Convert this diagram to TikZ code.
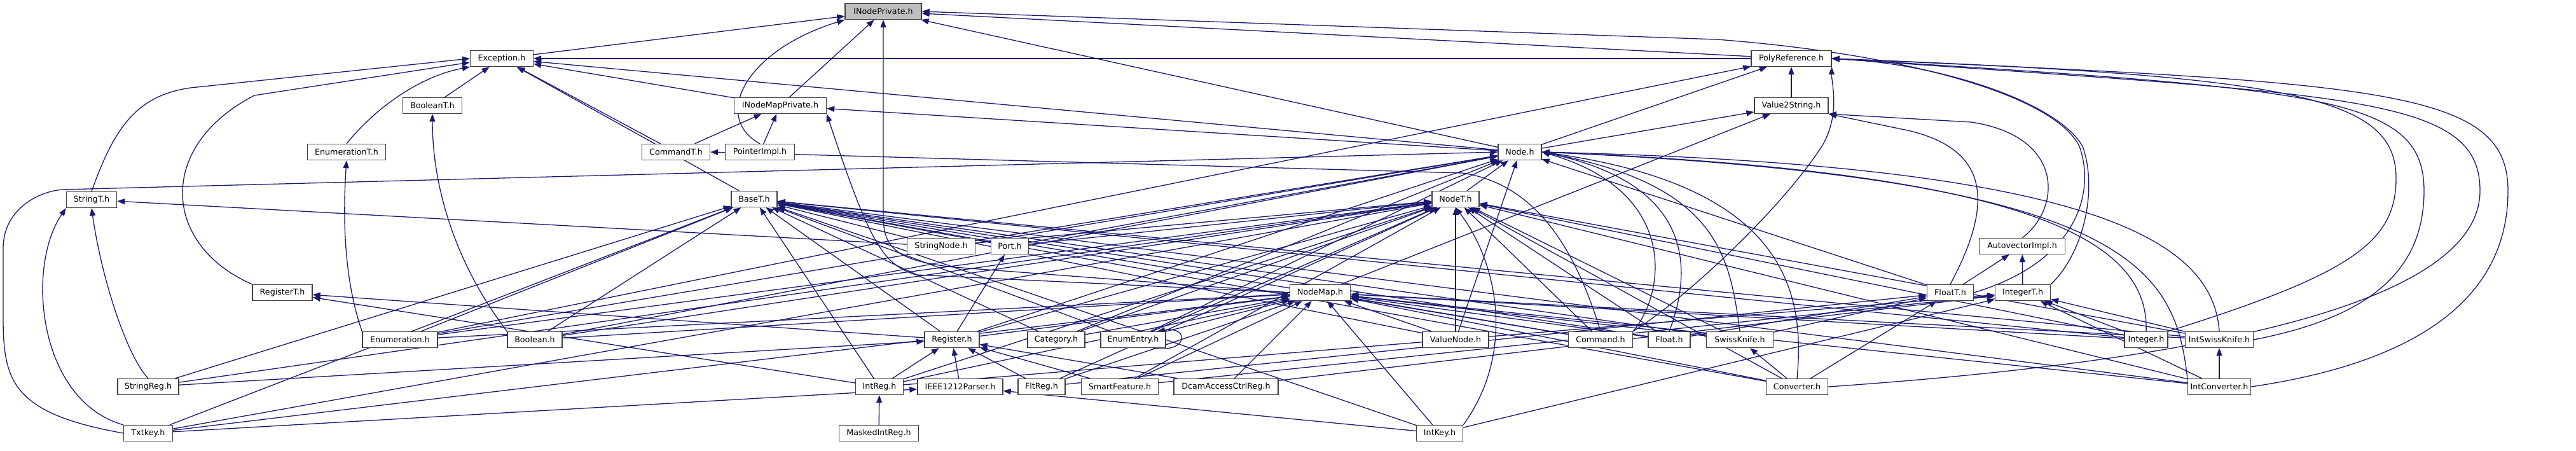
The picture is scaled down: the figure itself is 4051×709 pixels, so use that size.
\documentclass[tikz,border=0pt]{standalone}
\usepackage{fontspec}
\setmainfont{DejaVu Sans}
\usepackage{tikz}
\usetikzlibrary{arrows.meta}
\pgfdeclarelayer{background}
\pgfsetlayers{background,main}
\definecolor{edgeblue}{HTML}{191970}
\definecolor{rootgray}{HTML}{BFBFBF}
\tikzstyle{filebox}=[draw=black!75, fill=white, line width=1.3pt,
					minimum height=25pt, inner sep=0pt, text centered,
					font=\fontsize{12.7}{15}\selectfont]

\begin{document}
\begin{tikzpicture}[x=1pt, y=-1pt,
rootbox/.style={filebox, fill=rootgray},
incl/.style={draw=edgeblue, line width=1.3pt, -{Triangle[length=12pt,width=9pt]}},
]
\useasboundingbox (0,0) rectangle (4051,709);

%Nodes
\node[rootbox, minimum width=120pt] (inodeprivate_node) at (1389,18) {INodePrivate.h};
\node[filebox, minimum width=99pt]  (exception_node) at (789,92) {Exception.h};
\node[filebox, minimum width=126pt] (polyreference_node) at (2817,92) {PolyReference.h};
\node[filebox, minimum width=93pt]  (booleant_node) at (680,166) {BooleanT.h};
\node[filebox, minimum width=145pt] (inodemapprivate_node) at (1227,166) {INodeMapPrivate.h};
\node[filebox, minimum width=116pt] (value2string_node) at (2817,166) {Value2String.h};
\node[filebox, minimum width=123pt] (enumerationt_node) at (545,239) {EnumerationT.h};
\node[filebox, minimum width=107pt] (commandt_node) at (1063,239) {CommandT.h};
\node[filebox, minimum width=109pt] (pointerimpl_node) at (1195,239) {PointerImpl.h};
\node[filebox, minimum width=68pt]  (node_node) at (2390,239) {Node.h};
\node[filebox, minimum width=79pt]  (stringt_node) at (144,314) {StringT.h};
\node[filebox, minimum width=72pt]  (baset_node) at (1186,313) {BaseT.h};
\node[filebox, minimum width=74pt]  (nodet_node) at (2289,313) {NodeT.h};
\node[filebox, minimum width=107pt] (stringnode_node) at (1480,387) {StringNode.h};
\node[filebox, minimum width=59pt]  (port_node) at (1588,387) {Port.h};
\node[filebox, minimum width=135pt] (autovectorimpl_node) at (3180,387) {AutovectorImpl.h};
\node[filebox, minimum width=94pt]  (registert_node) at (444,460) {RegisterT.h};
\node[filebox, minimum width=95pt]  (nodemap_node) at (2076,460) {NodeMap.h};
\node[filebox, minimum width=73pt]  (floatt_node) at (3067,460) {FloatT.h};
\node[filebox, minimum width=87pt]  (integert_node) at (3181,460) {IntegerT.h};
\node[filebox, minimum width=118pt] (enumeration_node) at (629,534) {Enumeration.h};
\node[filebox, minimum width=86pt]  (boolean_node) at (841,534) {Boolean.h};
\node[filebox, minimum width=86pt]  (register_node) at (1497,534) {Register.h};
\node[filebox, minimum width=90pt]  (category_node) at (1661,534) {Category.h};
\node[filebox, minimum width=102pt] (enumentry_node) at (1782,534) {EnumEntry.h};
\node[filebox, minimum width=104pt] (valuenode_node) at (2289,534) {ValueNode.h};
\node[filebox, minimum width=101pt] (command_node) at (2517,534) {Command.h};
\node[filebox, minimum width=66pt]  (float_node) at (2625,534) {Float.h};
\node[filebox, minimum width=105pt] (swissknife_node) at (2736,534) {SwissKnife.h};
\node[filebox, minimum width=68pt]  (integer_node) at (3375,534) {Integer.h};
\node[filebox, minimum width=107pt] (intswissknife_node) at (3490,534) {IntSwissKnife.h};
\node[filebox, minimum width=96pt]  (stringreg_node) at (233,608) {StringReg.h};
\node[filebox, minimum width=75pt]  (intreg_node) at (1383,608) {IntReg.h};
\node[filebox, minimum width=134pt] (ieee1212parser_node) at (1510,608) {IEEE1212Parser.h};
\node[filebox, minimum width=74pt]  (fltreg_node) at (1638,608) {FltReg.h};
\node[filebox, minimum width=121pt] (smartfeature_node) at (1761,608) {SmartFeature.h};
\node[filebox, minimum width=164pt] (dcamaccessctrlreg_node) at (1928,608) {DcamAccessCtrlReg.h};
\node[filebox, minimum width=97pt]  (converter_node) at (2826,608) {Converter.h};
\node[filebox, minimum width=99pt]  (intconverter_node) at (3490,608) {IntConverter.h};
\node[filebox, minimum width=77pt]  (txtkey_node) at (233,681) {Txtkey.h};
\node[filebox, minimum width=125pt] (maskedintreg_node) at (1382,681) {MaskedIntReg.h};
\node[filebox, minimum width=73pt]  (intkey_node) at (2264,681) {IntKey.h};

%Bends of the long lines on the right
\coordinate (loop_int) at (3768,280);
\coordinate (loop_isk) at (3812,300);
\coordinate (loop_conv) at (3900,300);
\coordinate (loop_iconv) at (3944,300);

\begin{pgfonlayer}{background}
%Lines
\draw[incl] (exception_node) -- (inodeprivate_node);
\draw[incl] (inodemapprivate_node) -- (inodeprivate_node);
\draw[incl] (inodemapprivate_node) -- (exception_node);
\draw[incl] (pointerimpl_node.north) .. controls (1120,185) and (1170,80) .. (inodeprivate_node.south west);
\draw[incl] (pointerimpl_node) -- (inodemapprivate_node);
\draw[incl] (commandt_node) -- (exception_node);
\draw[incl] (commandt_node) -- (inodemapprivate_node);
\draw[incl] (booleant_node) -- (exception_node);
\draw[incl] (enumerationt_node.north) .. controls (590,170) and (660,120) .. (exception_node.south west);
\draw[incl] (stringt_node.north) .. controls (180,200) and (215,150) .. (300,138) -- (exception_node.west);
\draw[incl] (registert_node.north west) .. controls (255,385) and (245,230) .. (400,150) -- ([yshift=-6pt]exception_node.west);
\draw[incl] (baset_node) -- (exception_node);
\draw[incl] (node_node) -- (inodeprivate_node);
\draw[incl] (node_node) -- (exception_node);
\draw[incl] (node_node) -- (inodemapprivate_node);
\draw[incl] (node_node) -- (polyreference_node);
\draw[incl] (node_node) -- (value2string_node);
\draw[incl] (polyreference_node) -- (inodeprivate_node);
\draw[incl] (polyreference_node) -- (exception_node);
\draw[incl] (value2string_node) -- (polyreference_node);
\draw[incl] (nodet_node) -- (node_node);
\draw[incl] (nodemap_node) -- (value2string_node);
\draw[incl] (nodemap_node.west) -- (1500,420) .. controls (1410,410) and (1389,390) .. (1389,340) -- (inodeprivate_node.south);
\draw[incl] (nodemap_node.west) -- (1440,432) .. controls (1390,415) and (1370,390) .. (inodemapprivate_node.south east);
\draw[incl] (autovectorimpl_node.north) .. controls (3240,330) and (3250,215) .. (3100,192) -- (value2string_node.south east);
\draw[incl] (floatt_node) -- (autovectorimpl_node);
\draw[incl] (integert_node) -- (autovectorimpl_node);
\draw[incl] (floatt_node.north) .. controls (3135,320) and (3130,235) .. (3000,205) -- (value2string_node.south east);
\draw[incl] (floatt_node.east) .. controls (3270,410) and (3295,300) .. (3270,230) .. controls (3230,150) and (3000,85) .. (2700,62) -- (inodeprivate_node.east);
\draw[incl] (integert_node.north east) .. controls (3275,400) and (3300,300) .. (3275,230) .. controls (3235,160) and (3050,100) .. (polyreference_node.east);
\draw[incl] (floatt_node) -- (node_node);

\draw[incl] (stringnode_node) -- (stringt_node);
\draw[incl] (stringnode_node) -- (baset_node);
\draw[incl] (stringnode_node) -- (nodet_node);
\draw[incl] (stringnode_node) -- (node_node);
\draw[incl] (port_node) -- (baset_node);
\draw[incl] (port_node) -- (nodet_node);
\draw[incl] (port_node) -- (node_node);
\draw[incl] (register_node) -- (port_node);
\draw[incl] (register_node) -- (registert_node);
\draw[incl] (register_node) -- (baset_node);
\draw[incl] (register_node) -- (nodet_node);
\draw[incl] (register_node) -- (node_node);
\draw[incl] (register_node) -- (nodemap_node);
\draw[incl] (category_node) -- (baset_node);
\draw[incl] (category_node) -- (nodet_node);
\draw[incl] (category_node) -- (node_node);
\draw[incl] (category_node) -- (nodemap_node);
\draw[incl] ([xshift=31pt]enumentry_node.south) .. controls (1870,556) and (1870,512) .. ([xshift=38pt]enumentry_node.north);
\draw[incl] (enumentry_node) -- (baset_node);
\draw[incl] (enumentry_node) -- (nodet_node);
\draw[incl] (enumentry_node) -- (node_node);
\draw[incl] (enumentry_node) -- (nodemap_node);
\draw[incl] (enumeration_node.north west) .. controls (555,480) and (535,400) .. (enumerationt_node.south);
\draw[incl] (enumeration_node) -- (baset_node);
\draw[incl] (enumeration_node) -- (nodet_node);
\draw[incl] (enumeration_node) -- (node_node);
\draw[incl] (enumeration_node) -- (nodemap_node);
\draw[incl] (enumeration_node) -- (polyreference_node);
\draw[incl] (boolean_node.north west) .. controls (720,420) and (680,300) .. (booleant_node.south);
\draw[incl] (boolean_node) -- (baset_node);
\draw[incl] (boolean_node) -- (nodet_node);
\draw[incl] (boolean_node) -- (node_node);
\draw[incl] (boolean_node) -- (nodemap_node);
\draw[incl] (stringreg_node.north) .. controls (200,560) and (160,440) .. (stringt_node.south);
\draw[incl] (stringreg_node) -- (register_node);
\draw[incl] (stringreg_node) -- (baset_node);
\draw[incl] (stringreg_node) -- (nodet_node);
\draw[incl] (txtkey_node.north west) .. controls (60,630) and (40,420) .. (stringt_node.south west);
\draw[incl] (txtkey_node.west) .. controls (20,650) and (5,600) .. (5,500) -- (5,390) .. controls (5,330) and (60,300) .. (100,298) -- (node_node.west);
\draw[incl] (txtkey_node) -- (baset_node);
\draw[incl] (txtkey_node) -- (nodet_node);
\draw[incl] (txtkey_node) -- (nodemap_node);
\draw[incl] (txtkey_node) -- (ieee1212parser_node);
\draw[incl] (intreg_node) -- (register_node);
\draw[incl] (intreg_node) -- (registert_node);
\draw[incl] (intreg_node) -- (integert_node);
\draw[incl] (intreg_node) -- (baset_node);
\draw[incl] (intreg_node) -- (nodet_node);
\draw[incl] (intreg_node) -- (nodemap_node);
\draw[incl] (ieee1212parser_node) -- (register_node);
\draw[incl] (fltreg_node) -- (register_node);
\draw[incl] (fltreg_node) -- (floatt_node);
\draw[incl] (fltreg_node) -- (nodemap_node);
\draw[incl] (fltreg_node) -- (nodet_node);
\draw[incl] (smartfeature_node) -- (register_node);
\draw[incl] (smartfeature_node) -- (integert_node);
\draw[incl] (smartfeature_node) -- (nodemap_node);
\draw[incl] (smartfeature_node) -- (nodet_node);
\draw[incl] (dcamaccessctrlreg_node) -- (register_node);
\draw[incl] (dcamaccessctrlreg_node) -- (integert_node);
\draw[incl] (dcamaccessctrlreg_node) -- (nodemap_node);
\draw[incl] (maskedintreg_node) -- (intreg_node);
\draw[incl] (intkey_node) -- (ieee1212parser_node);
\draw[incl] (intkey_node) -- (nodemap_node);
\draw[incl] (intkey_node.north east) .. controls (2380,560) and (2360,420) .. (nodet_node.south);
\draw[incl] (intkey_node) -- (integert_node);
\draw[incl] (intkey_node) -- (baset_node);
\draw[incl] (valuenode_node) -- (nodet_node);
\draw[incl] (valuenode_node) -- (node_node);
\draw[incl] (valuenode_node) -- (nodemap_node);
\draw[incl] (valuenode_node) -- (baset_node);
\draw[incl] (command_node.north) .. controls (2480,400) and (2420,290) .. (2300,272) -- (commandt_node.east);
\draw[incl] (command_node) -- (baset_node);
\draw[incl] (command_node) -- (nodet_node);
\draw[incl] (command_node) -- (nodemap_node);
\draw[incl] (command_node.north east) .. controls (2620,460) and (2640,300) .. (node_node.east);
\draw[incl] (command_node.north east) .. controls (2650,470) and (2800,330) .. (2865,230) .. controls (2895,180) and (2880,130) .. (polyreference_node.south east);
\draw[incl] (float_node) -- (floatt_node);
\draw[incl] (float_node) -- (baset_node);
\draw[incl] (float_node) -- (nodet_node);
\draw[incl] (float_node) -- (nodemap_node);
\draw[incl] (float_node.north) .. controls (2660,430) and (2670,290) .. (node_node.east);
\draw[incl] (swissknife_node) -- (floatt_node);
\draw[incl] (swissknife_node) -- (baset_node);
\draw[incl] (swissknife_node) -- (nodet_node);
\draw[incl] (swissknife_node) -- (nodemap_node);
\draw[incl] (swissknife_node.north) .. controls (2720,400) and (2700,290) .. (node_node.east);
\draw[incl] (converter_node) -- (swissknife_node);
\draw[incl] (converter_node) -- (floatt_node);
\draw[incl] (converter_node) -- (baset_node);
\draw[incl] (converter_node) -- (nodet_node);
\draw[incl] (converter_node) -- (nodemap_node);
\draw[incl] (converter_node.north) .. controls (2840,450) and (2800,290) .. (node_node.east);
\draw[incl] (converter_node.east) .. controls (3500,565) and (3900,470) .. (loop_conv) .. controls (3900,150) and (3700,150) .. (polyreference_node.east);
\draw[incl] (integer_node) -- (integert_node);
\draw[incl] (integer_node) -- (baset_node);
\draw[incl] (integer_node) -- (nodet_node);
\draw[incl] (integer_node) -- (nodemap_node);
\draw[incl] (integer_node.north) .. controls (3380,380) and (3200,270) .. (node_node.east);
\draw[incl] (integer_node.north east) .. controls (3700,430) and (3768,380) .. (loop_int) .. controls (3768,150) and (3600,120) .. (polyreference_node.east);
\draw[incl] (intswissknife_node) -- (integert_node);
\draw[incl] (intswissknife_node) -- (baset_node);
\draw[incl] (intswissknife_node) -- (nodet_node);
\draw[incl] (intswissknife_node) -- (nodemap_node);
\draw[incl] (intswissknife_node.north) .. controls (3480,380) and (3300,260) .. (node_node.east);
\draw[incl] (intswissknife_node.east) .. controls (3720,500) and (3812,430) .. (loop_isk) .. controls (3812,150) and (3650,140) .. (polyreference_node.east);
\draw[incl] (intconverter_node) -- (intswissknife_node);
\draw[incl] (intconverter_node) -- (integert_node);
\draw[incl] (intconverter_node) -- (baset_node);
\draw[incl] (intconverter_node) -- (nodet_node);
\draw[incl] (intconverter_node) -- (nodemap_node);
\draw[incl] (intconverter_node.north west) .. controls (3420,420) and (3350,280) .. (node_node.east);
\draw[incl] (intconverter_node.east) .. controls (3800,570) and (3944,470) .. (loop_iconv) .. controls (3944,140) and (3750,130) .. (polyreference_node.east);
\end{pgfonlayer}

\end{tikzpicture}
\end{document}
